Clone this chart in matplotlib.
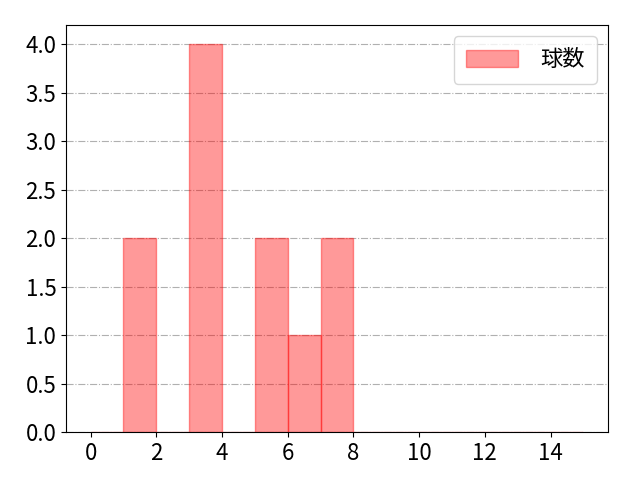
import matplotlib
matplotlib.use("Agg")
import matplotlib.pyplot as plt

plt.rcParams['font.family'] = ['Noto Sans CJK JP', 'DejaVu Sans']

bin_edges = list(range(0, 16))
counts = [0, 2, 0, 4, 0, 2, 1, 2, 0, 0, 0, 0, 0, 0, 0]
label = "球数"

fig, ax = plt.subplots(figsize=(6.4, 4.8), dpi=100)
fig.subplots_adjust(left=66/640, right=608/640, top=1-25/480, bottom=1-432/480)
ax.hist(bin_edges[:-1], bins=bin_edges, weights=counts, color='red', alpha=0.4,
        edgecolor='red', linewidth=1, label=label, zorder=2)
ax.set_xticks([0, 2, 4, 6, 8, 10, 12, 14])
ax.grid(axis='y', linestyle='-.', color='#b0b0b0', linewidth=0.8, zorder=0)
ax.set_axisbelow(True)
ax.tick_params(labelsize=16)
leg = ax.legend(fontsize=16, loc='upper right', handlelength=2.35, handleheight=0.75,
                borderpad=0.55, handletextpad=1.0)
fig.savefig("out.png")
